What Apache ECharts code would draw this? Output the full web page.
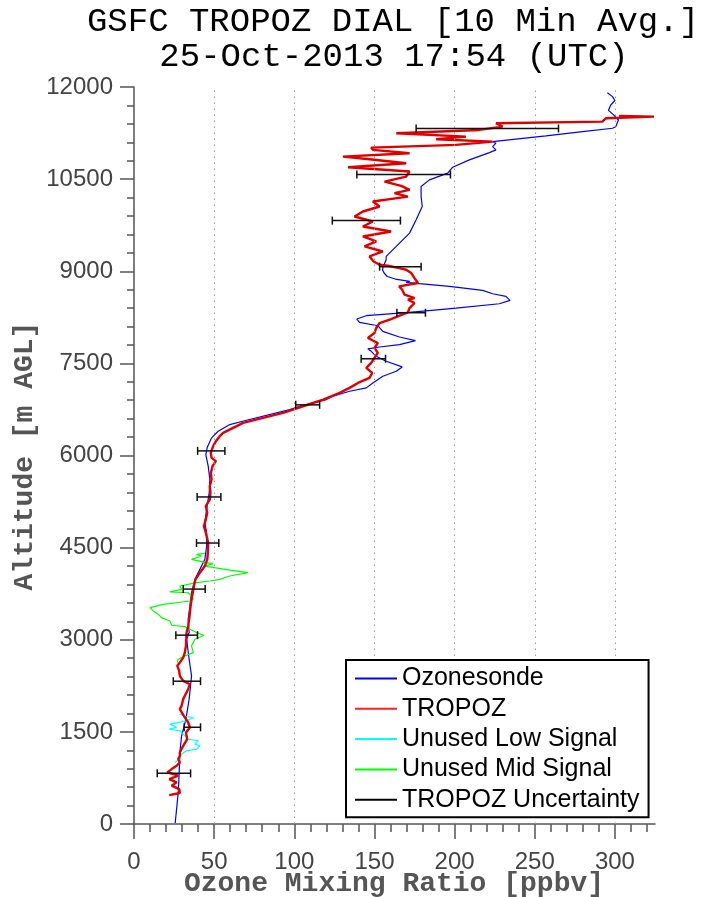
<!DOCTYPE html>
<html>
<head>
<meta charset="utf-8">
<script src="https://cdn.jsdelivr.net/npm/echarts@6/dist/echarts.min.js"></script>
<style>
html,body{margin:0;padding:0;background:#fff;}
#chart{width:701px;height:897px;}
</style>
</head>
<body>
<div id="chart"></div>
<script>
// ---- Data ----
const xMajorTicks = [0, 50, 100, 150, 200, 250, 300];
const xMinorTicks = [10,20,30,40,60,70,80,90,110,120,130,140,160,170,180,190,210,220,230,240,260,270,280,290,310,320];
const gridX = [50, 100, 150, 200, 250, 300];

// Ozonesonde: altitude (m) and ozone (ppbv)
const sondeAlt = [16,515,841,1166,1436,1707,2033,2411,2683,3008,3117,3333,3550,3767,3984,4146,4309,4526,4743,4906,5122,5393,5610,5826,6016,6125,6288,6395,6504,6574,6748,6802,6911,6965,7046,7101,7182,7290,7371,7442,7534,7615,7696,7735,7767,7805,7870,7930,8021,8113,8168,8222,8276,8330,8401,8471,8525,8590,8634,8688,8753,8797,8818,8835,8873,8915,8971,9024,9078,9187,9241,9404,9621,9837,10054,10216,10379,10488,10597,10694,10813,10932,10976,11030,11085,11111,11203,11273,11328,11354,11463,11550,11620,11707,11780,11843,11907];
const sondeO3  = [25.7,27.6,28.2,28.6,29.7,32.4,34.4,35.9,34.4,32.8,34.4,33.8,34.9,35.9,38.0,41.1,44.2,45.3,45.3,44.2,45.3,46.9,47.3,46.3,44.8,45.6,48.4,52.5,59.8,70.2,97.1,103.4,120.0,124.1,134.5,144.9,149.0,155.2,163.6,167.3,157.3,151.1,148.0,145.9,153.2,165.6,175.6,165.6,155.2,152.1,140.7,139.0,144.9,171.9,200.9,227.9,234.6,232.0,223.7,217.5,196.8,178.1,169.8,172.0,163.0,158.0,156.0,155.0,155.5,157.3,157.3,163.6,171.9,176.0,179.8,179.1,179.1,184.3,195.7,198.8,209.2,221.7,225.8,223.7,225.8,223.7,257.0,279.8,298.5,300.5,302.2,299.0,296.0,297.4,300.0,298.5,295.3];

// TROPOZ lidar
const tropozAlt = [471,504,569,624,678,732,786,840,894,949,1003,1057,1111,1165,1274,1382,1491,1572,1653,1762,1870,1924,2033,2087,2195,2276,2331,2412,2493,2575,2629,2710,2791,2900,3008,3117,3225,3333,3442,3550,3659,3875,3984,4092,4200,4309,4417,4580,4743,4851,4959,5068,5176,5285,5393,5501,5610,5718,5826,5908,5962,6043,6152,6233,6314,6369,6450,6531,6612,6694,6802,6911,7019,7101,7182,7263,7344,7426,7507,7588,7670,7751,7832,7913,7995,8076,8157,8222,8276,8330,8401,8483,8537,8564,8618,8645,8699,8753,8808,8835,8889,8915,8971,9024,9052,9089,9106,9160,9241,9322,9404,9485,9566,9647,9729,9810,9891,9973,10054,10135,10216,10271,10325,10390,10460,10542,10623,10694,10759,10824,10867,10922,10976,11013,11057,11111,11149,11192,11247,11301,11355,11409,11436,11490,11517,11528];
const tropozO3  = [22.0,28.6,28.2,23.5,26.6,22.0,27.6,20.8,23.5,26.6,28.6,27.6,28.6,28.6,30.7,33.2,32.4,34.9,33.8,31.1,28.6,29.7,30.7,31.7,33.8,34.9,30.7,28.6,28.2,27.0,28.6,30.7,31.7,32.4,32.6,32.8,33.8,34.4,34.9,35.3,35.9,37.4,38.4,41.1,44.2,45.7,46.1,46.3,44.8,43.6,44.8,45.7,44.8,47.3,47.7,47.3,48.4,47.9,49.0,51.1,48.4,47.9,49.4,51.1,53.5,55.6,61.8,68.1,80.5,93.0,105.4,118.0,128.3,134.5,139.7,146.9,148.6,144.9,148.0,150.0,152.1,150.0,152.1,145.9,150.0,151.1,153.2,160.4,165.6,170.9,171.9,175.0,170.9,175.0,168.8,168.8,167.3,165.4,177.1,177.0,175.0,173.9,172.9,169.8,165.6,158.3,153.2,149.5,146.9,155.2,143.8,151.1,142.8,160.4,142.8,149.0,137.6,142.8,153.2,149.0,170.8,162.5,171.9,166.7,156.3,169.8,171.9,133.5,169.8,146.9,130.3,171.9,149.0,148.0,200.9,223.7,188.5,207.1,163.6,215.4,229.9,225.8,292.2,294.3,324.4,302.6];

// Unused low signal
const lowAlt = [1003,1030,1057,1138,1192,1220,1274,1301,1355,1382,1463,1518,1545,1572,1626,1680,1734,1750,1789];
const lowO3  = [25.5,26.6,28.6,29.7,32.8,39.0,41.1,38.0,40.1,33.8,30.7,28.6,22.0,26.6,22.4,32.8,37.4,31.7,28.6];

// Unused mid signal
const midAlt = [2629,2683,2737,2791,2900,3008,3073,3117,3171,3214,3236,3306,3360,3415,3469,3523,3577,3631,3659,3713,3765,3780,3821,3875,3902,3930,3957,3984,4038,4092,4135,4200,4240,4255,4280,4309,4363,4390,4406];
const midO3  = [27.0,27.6,31.7,37.0,35.9,38.0,43.6,39.0,34.9,31.7,23.5,22.4,17.2,15.1,12.0,10.0,18.3,34.9,37.0,35.9,33.8,22.4,29.7,28.6,33.8,39.0,47.3,53.5,59.8,71.2,59.8,44.2,49.4,44.2,41.0,35.9,42.1,39.0,44.2];

// TROPOZ uncertainty bars
const errAlt = [825,1575,2325,3075,3825,4575,5325,6075,6825,7575,8325,9075,9825,10575,11325];
const errLo  = [14.5,31.3,24.5,26.1,30.7,39.0,39.4,39.7,100.9,141.7,164.0,153.2,123.7,139.0,176.0];
const errHi  = [35.3,41.5,41.5,39.6,44.4,52.9,54.2,56.7,115.8,156.9,181.8,179.1,166.2,197.4,264.8];

const pairs = (xs, ys) => xs.map((v, i) => [v, ys[i]]);

const chart = echarts.init(document.getElementById('chart'), null, {renderer: 'canvas'});
const axisColor = '#555';
const sans = 'Liberation Sans, Arial, sans-serif';
const mono = 'Liberation Mono, Courier New, monospace';

const option = {
  animation: false,
  backgroundColor: '#fff',
  graphic: [
    {type: 'text', x: 393, y: 22, style: {text: 'GSFC TROPOZ DIAL [10 Min Avg.]', font: '34px ' + mono, fill: '#000', align: 'center', verticalAlign: 'middle'}},
    {type: 'text', x: 394, y: 57, style: {text: '25-Oct-2013 17:54 (UTC)', font: '34px ' + mono, fill: '#000', align: 'center', verticalAlign: 'middle'}},
    {type: 'text', x: 394, y: 884, style: {text: 'Ozone Mixing Ratio [ppbv]', font: 'bold 28px ' + mono, fill: '#555', align: 'center', verticalAlign: 'middle'}},
    {type: 'text', x: 25, y: 456, rotation: Math.PI / 2, style: {text: 'Altitude [m AGL]', font: 'bold 28px ' + mono, fill: '#555', align: 'center', verticalAlign: 'middle'}}
  ],
  grid: {left: 134, right: 46, top: 87, bottom: 73, containLabel: false, outerBoundsMode: 'none'},
  xAxis: [
    {
      type: 'value', min: 0, max: 325, interval: 50,
      axisLine: {show: true, lineStyle: {color: axisColor, width: 1.5}},
      axisTick: {show: true, length: 15, customValues: xMajorTicks, lineStyle: {color: axisColor, width: 1.5}},
      axisLabel: {fontFamily: sans, fontSize: 24, color: '#444', margin: 26, showMaxLabel: false,
        formatter: v => (v % 50 === 0 ? String(v) : '')},
      splitLine: {show: false}
    },
    {
      type: 'value', min: 0, max: 325, position: 'bottom',
      axisLine: {show: false},
      axisTick: {show: true, length: 8, customValues: xMinorTicks, lineStyle: {color: axisColor, width: 1.5}},
      axisLabel: {show: false},
      splitLine: {show: false}
    }
  ],
  yAxis: {
    type: 'value', min: 0, max: 12000, interval: 1500,
    axisLine: {show: true, lineStyle: {color: axisColor, width: 1.5}},
    axisTick: {show: true, length: 14, lineStyle: {color: axisColor, width: 1.5}},
    minorTick: {show: true, splitNumber: 5, length: 7, lineStyle: {color: axisColor, width: 1.5}},
    axisLabel: {fontFamily: sans, fontSize: 24, color: '#444', margin: 21, formatter: v => String(v)},
    splitLine: {show: false},
    minorSplitLine: {show: false}
  },
  legend: {
    orient: 'vertical', left: 346, top: 660,
    padding: [6, 9, 5, 9],
    itemGap: 5.3, itemWidth: 42, itemHeight: 2, icon: 'rect',
    backgroundColor: '#fff', borderColor: '#000', borderWidth: 2,
    textStyle: {fontFamily: sans, fontSize: 25, color: '#000', lineHeight: 25},
    data: ['Ozonesonde', 'TROPOZ', 'Unused Low Signal', 'Unused Mid Signal', 'TROPOZ Uncertainty'],
    z: 20
  },
  series: [
    {
      name: 'gridlines', type: 'line', data: [], z: 1, silent: true,
      markLine: {
        silent: true, symbol: 'none', label: {show: false}, animation: false,
        lineStyle: {type: [1.5, 4.5], color: '#999', width: 1},
        data: gridX.map(v => ({xAxis: v}))
      }
    },
    {
      name: 'Ozonesonde', type: 'line', data: pairs(sondeO3, sondeAlt), symbol: 'none', z: 2,
      lineStyle: {color: '#0000ff', width: 1.2}, itemStyle: {color: '#0000ff'}
    },
    {
      name: 'Unused Low Signal', type: 'line', data: pairs(lowO3, lowAlt), symbol: 'none', z: 3,
      lineStyle: {color: '#00ffff', width: 1.2}, itemStyle: {color: '#00ffff'}
    },
    {
      name: 'Unused Mid Signal', type: 'line', data: pairs(midO3, midAlt), symbol: 'none', z: 3,
      lineStyle: {color: '#00ff00', width: 1.2}, itemStyle: {color: '#00ff00'}
    },
    {
      name: 'TROPOZ', type: 'line', data: pairs(tropozO3, tropozAlt), symbol: 'none', z: 4,
      lineStyle: {color: '#e00000', width: 2.4}, itemStyle: {color: '#ff2020'}
    },
    {
      name: 'TROPOZ Uncertainty', type: 'custom', z: 5,
      itemStyle: {color: '#000'},
      encode: {x: [0, 1], y: 2},
      data: errAlt.map((a, i) => [errLo[i], errHi[i], a]),
      renderItem: function (params, api) {
        const p1 = api.coord([api.value(0), api.value(2)]);
        const p2 = api.coord([api.value(1), api.value(2)]);
        const h = 4;
        const st = {stroke: '#111', lineWidth: 1.5};
        return {
          type: 'group',
          children: [
            {type: 'line', shape: {x1: p1[0], y1: p1[1], x2: p2[0], y2: p2[1]}, style: st},
            {type: 'line', shape: {x1: p1[0], y1: p1[1] - h, x2: p1[0], y2: p1[1] + h}, style: st},
            {type: 'line', shape: {x1: p2[0], y1: p2[1] - h, x2: p2[0], y2: p2[1] + h}, style: st}
          ]
        };
      }
    }
  ]
};
chart.setOption(option);
</script>
</body>
</html>
